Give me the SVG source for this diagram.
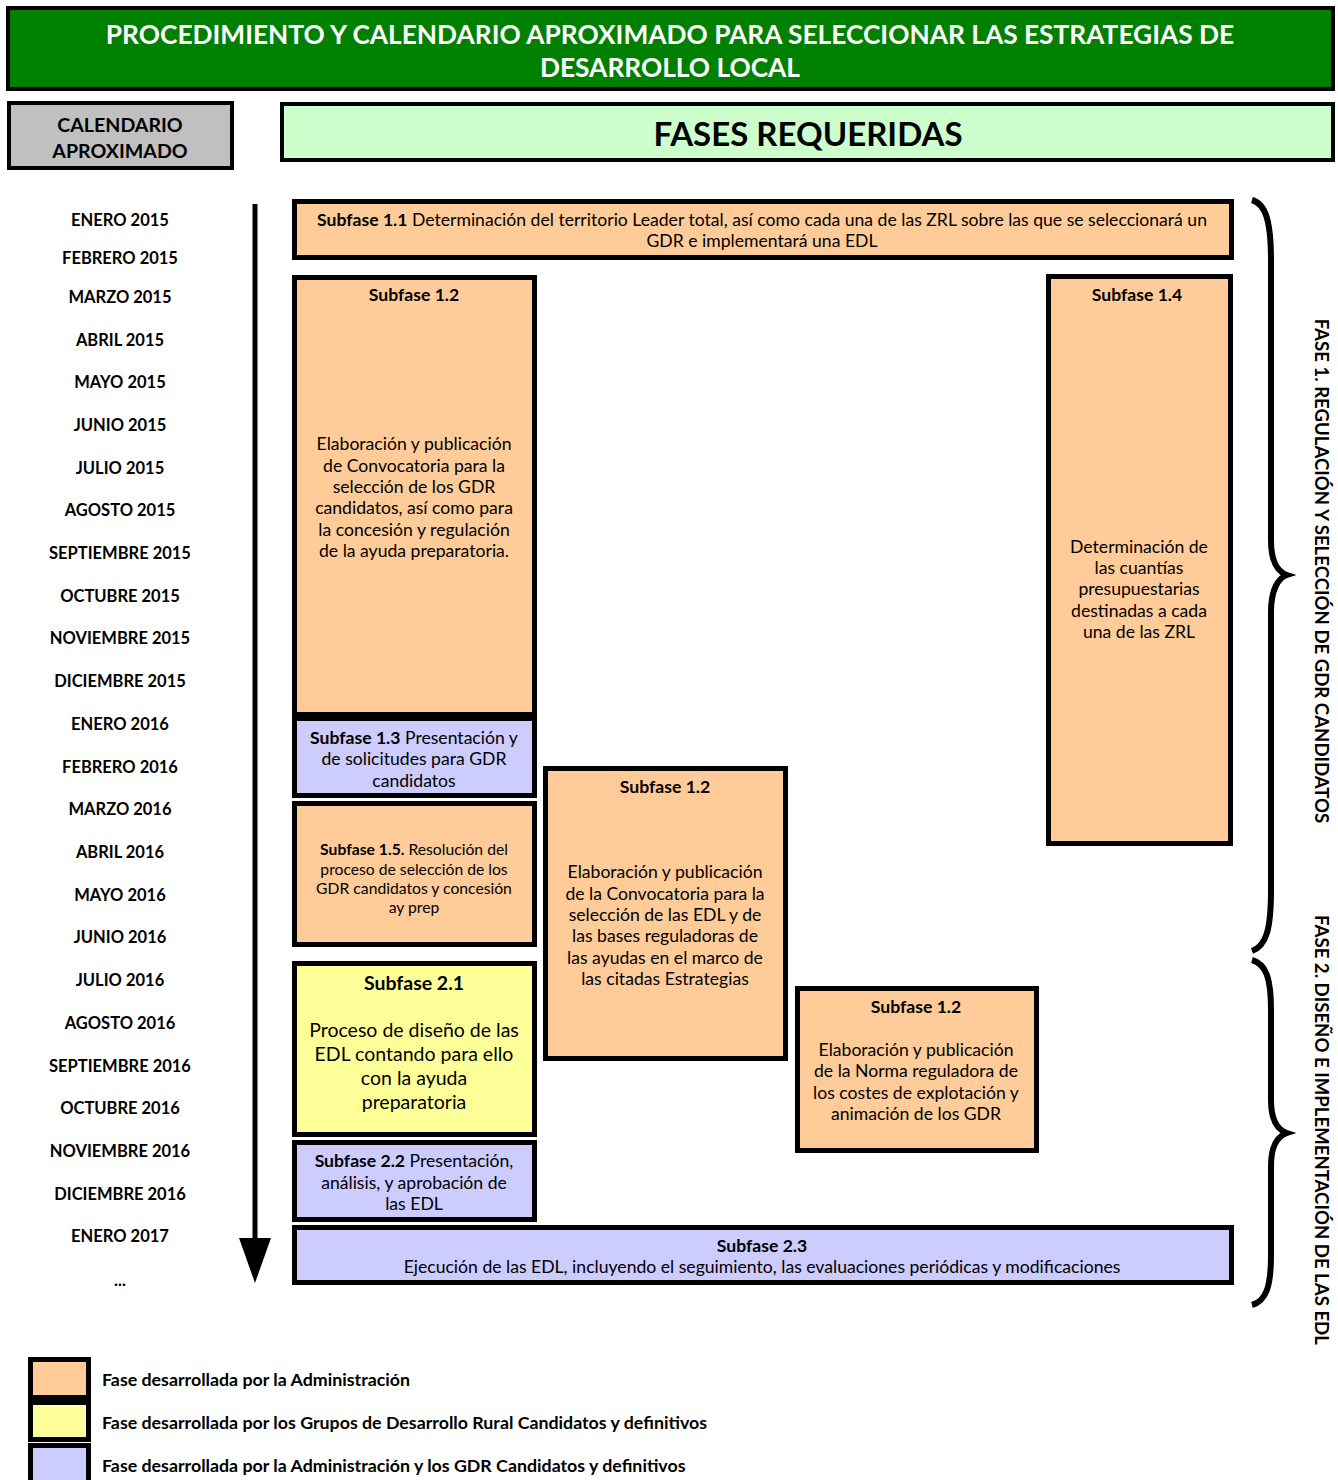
<svg xmlns="http://www.w3.org/2000/svg" width="1338" height="1480" viewBox="0 0 1338 1480">
<style>
text{font-family:Lato,"Liberation Sans",sans-serif;fill:#000}
.box{stroke:#000;stroke-width:5}
.or{fill:#FFCC99}.bl{fill:#CCCCFF}.ye{fill:#FFFF99}
.t{font-size:17.6px;text-anchor:middle}
.b{font-weight:bold}
.s{font-size:15.7px}
.l{font-size:19.5px}
.m{font-size:16.5px;font-weight:bold;text-anchor:middle}
.lg{font-size:17.8px;font-weight:bold}
.v{font-size:18.6px;font-weight:bold;text-anchor:middle}
</style>
<rect width="1338" height="1480" fill="#fff"/>
<g id="title">
<rect x="8" y="8" width="1325" height="81" fill="#008000" stroke="#000" stroke-width="4"/>
<text x="670" y="44" font-size="26.3" font-weight="bold" text-anchor="middle" style="fill:#fff">PROCEDIMIENTO Y CALENDARIO APROXIMADO PARA SELECCIONAR LAS ESTRATEGIAS DE</text>
<text x="670" y="77" font-size="26.3" font-weight="bold" text-anchor="middle" style="fill:#fff">DESARROLLO LOCAL</text>
</g>
<g id="calendario">
<rect x="9" y="103" width="223" height="65" fill="#C0C0C0" stroke="#000" stroke-width="4"/>
<text x="120" y="132" font-size="19.6" font-weight="bold" text-anchor="middle">CALENDARIO</text>
<text x="120" y="158" font-size="19.6" font-weight="bold" text-anchor="middle">APROXIMADO</text>
</g>
<g id="fases">
<rect x="282" y="104" width="1051" height="56" fill="#CCFFCC" stroke="#000" stroke-width="4"/>
<text x="808" y="146" font-size="33" font-weight="bold" text-anchor="middle">FASES REQUERIDAS</text>
</g>
<g id="months">
<text class="m" x="120" y="226">ENERO 2015</text>
<text class="m" x="120" y="264">FEBRERO 2015</text>
<text class="m" x="120" y="303">MARZO 2015</text>
<text class="m" x="120" y="346">ABRIL 2015</text>
<text class="m" x="120" y="388">MAYO 2015</text>
<text class="m" x="120" y="431">JUNIO 2015</text>
<text class="m" x="120" y="474">JULIO 2015</text>
<text class="m" x="120" y="516">AGOSTO 2015</text>
<text class="m" x="120" y="559">SEPTIEMBRE 2015</text>
<text class="m" x="120" y="602">OCTUBRE 2015</text>
<text class="m" x="120" y="644">NOVIEMBRE 2015</text>
<text class="m" x="120" y="687">DICIEMBRE 2015</text>
<text class="m" x="120" y="730">ENERO 2016</text>
<text class="m" x="120" y="773">FEBRERO 2016</text>
<text class="m" x="120" y="815">MARZO 2016</text>
<text class="m" x="120" y="858">ABRIL 2016</text>
<text class="m" x="120" y="901">MAYO 2016</text>
<text class="m" x="120" y="943">JUNIO 2016</text>
<text class="m" x="120" y="986">JULIO 2016</text>
<text class="m" x="120" y="1029">AGOSTO 2016</text>
<text class="m" x="120" y="1072">SEPTIEMBRE 2016</text>
<text class="m" x="120" y="1114">OCTUBRE 2016</text>
<text class="m" x="120" y="1157">NOVIEMBRE 2016</text>
<text class="m" x="120" y="1200">DICIEMBRE 2016</text>
<text class="m" x="120" y="1242">ENERO 2017</text>
<text class="m" x="120" y="1286">...</text>
</g>
<g id="connectors">
<line x1="255" y1="204" x2="255" y2="1245" stroke="#000" stroke-width="5"/>
<polygon points="239,1238 271,1238 255,1283" fill="#000"/>
<path d="M1252,200 C1266,204 1271,222 1271,260 L1271,540 C1271,562 1278,572 1287,575 C1278,578 1271,590 1271,612 L1271,890 C1271,930 1266,946 1252,951" fill="none" stroke="#000" stroke-width="6"/>
<path d="M1252,960 C1266,964 1271,978 1271,1010 L1271,1100 C1271,1120 1278,1130 1287,1133 C1278,1136 1271,1146 1271,1166 L1271,1255 C1271,1287 1266,1301 1252,1305" fill="none" stroke="#000" stroke-width="6"/>
</g>
<g id="fase1-label"><text class="v" transform="translate(1322,571) rotate(90)" y="7">FASE 1. REGULACIÓN Y SELECCIÓN DE GDR CANDIDATOS</text></g>
<g id="fase2-label"><text class="v" transform="translate(1322,1130) rotate(90)" y="7">FASE 2. DISEÑO E IMPLEMENTACIÓN DE LAS EDL</text></g>
<g id="s11">
<rect class="box or" x="294.5" y="201.5" width="937" height="56"/>
<text class="t" x="762" y="226"><tspan class="b">Subfase 1.1</tspan> Determinación del territorio Leader total, así como cada una de las ZRL sobre las que se seleccionará un</text>
<text class="t" x="762" y="247">GDR e implementará una EDL</text>
</g>
<g id="s12a">
<rect class="box or" x="294.5" y="277.5" width="240" height="437"/>
<text class="t b" x="414" y="301">Subfase 1.2</text>
<text class="t" x="414" y="450">Elaboración y publicación</text>
<text class="t" x="414" y="472">de Convocatoria para la</text>
<text class="t" x="414" y="493">selección de los GDR</text>
<text class="t" x="414" y="514">candidatos, así como para</text>
<text class="t" x="414" y="536">la concesión y regulación</text>
<text class="t" x="414" y="557">de la ayuda preparatoria.</text>
</g>
<g id="s13">
<rect class="box bl" x="294.5" y="718.5" width="240" height="77"/>
<text class="t" x="414" y="744"><tspan class="b">Subfase 1.3</tspan> Presentación y</text>
<text class="t" x="414" y="765">de solicitudes para GDR</text>
<text class="t" x="414" y="787">candidatos</text>
</g>
<g id="s15">
<rect class="box or" x="294.5" y="803.5" width="240" height="141"/>
<text class="t s" x="414" y="855"><tspan class="b">Subfase 1.5.</tspan> Resolución del</text>
<text class="t s" x="414" y="875">proceso de selección de los</text>
<text class="t s" x="414" y="894">GDR candidatos y concesión</text>
<text class="t s" x="414" y="913">ay prep</text>
</g>
<g id="s21">
<rect class="box ye" x="294.5" y="963.5" width="240" height="171"/>
<text class="t l b" x="414" y="990">Subfase 2.1</text>
<text class="t l" x="414" y="1037">Proceso de diseño de las</text>
<text class="t l" x="414" y="1061">EDL contando para ello</text>
<text class="t l" x="414" y="1085">con la ayuda</text>
<text class="t l" x="414" y="1109">preparatoria</text>
</g>
<g id="s22">
<rect class="box bl" x="294.5" y="1142.5" width="240" height="77"/>
<text class="t" x="414" y="1167"><tspan class="b">Subfase 2.2</tspan>  Presentación,</text>
<text class="t" x="414" y="1189">análisis, y aprobación de</text>
<text class="t" x="414" y="1210">las EDL</text>
</g>
<g id="s23">
<rect class="box bl" x="294.5" y="1227.5" width="937" height="55"/>
<text class="t b" x="762" y="1252">Subfase 2.3</text>
<text class="t" x="762" y="1273">Ejecución de las EDL, incluyendo el seguimiento, las evaluaciones periódicas y modificaciones</text>
</g>
<g id="s12b">
<rect class="box or" x="545.5" y="768.5" width="240" height="290"/>
<text class="t b" x="665" y="793">Subfase 1.2</text>
<text class="t" x="665" y="878">Elaboración y publicación</text>
<text class="t" x="665" y="900">de la Convocatoria para la</text>
<text class="t" x="665" y="921">selección de las EDL y de</text>
<text class="t" x="665" y="942">las bases reguladoras de</text>
<text class="t" x="665" y="964">las ayudas en el marco de</text>
<text class="t" x="665" y="985">las citadas Estrategias</text>
</g>
<g id="s12c">
<rect class="box or" x="797.5" y="988.5" width="239" height="162"/>
<text class="t b" x="916" y="1013">Subfase 1.2</text>
<text class="t" x="916" y="1056">Elaboración y publicación</text>
<text class="t" x="916" y="1077">de la Norma reguladora de</text>
<text class="t" x="916" y="1099">los costes de explotación y</text>
<text class="t" x="916" y="1120">animación de los GDR</text>
</g>
<g id="s14">
<rect class="box or" x="1048.5" y="276.5" width="182" height="567"/>
<text class="t b" x="1137" y="301">Subfase 1.4</text>
<text class="t" x="1139" y="553">Determinación de</text>
<text class="t" x="1139" y="574">las cuantías</text>
<text class="t" x="1139" y="595">presupuestarias</text>
<text class="t" x="1139" y="617">destinadas a cada</text>
<text class="t" x="1139" y="638">una de las ZRL</text>
</g>
<g id="legend">
<rect class="box or" x="30.5" y="1359.5" width="58" height="38"/>
<rect class="box ye" x="30.5" y="1402.5" width="58" height="37"/>
<rect class="box bl" x="30.5" y="1445.5" width="58" height="40"/>
<text class="lg" x="102" y="1386">Fase desarrollada por la Administración</text>
<text class="lg" x="102" y="1429">Fase desarrollada por los Grupos de Desarrollo Rural Candidatos y definitivos</text>
<text class="lg" x="102" y="1472">Fase desarrollada por la Administración y los GDR Candidatos y definitivos</text>
</g>
</svg>
